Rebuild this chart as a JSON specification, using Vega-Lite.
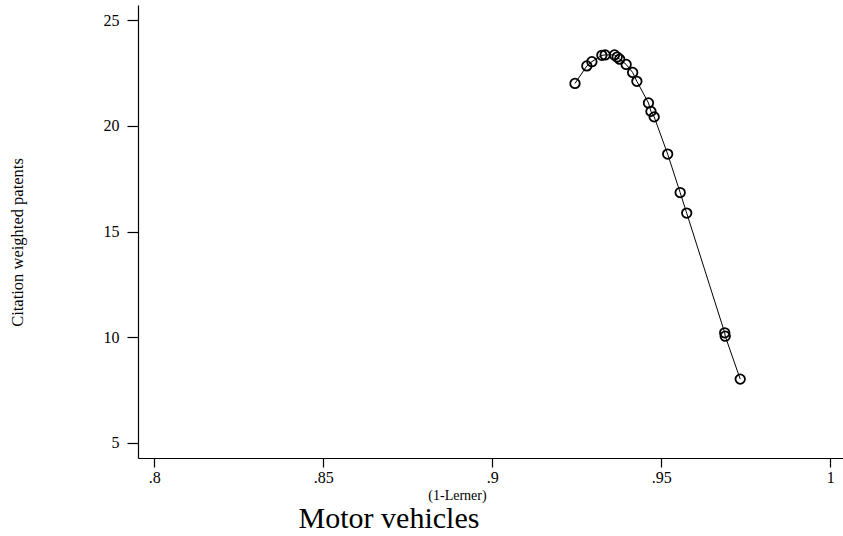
{
  "$schema": "https://vega.github.io/schema/vega-lite/v6.json",
  "autosize": {"type": "none"},
  "width": 705,
  "height": 453,
  "padding": {"left": 138, "top": 5, "right": 0, "bottom": 78},
  "background": "white",
  "config": {
    "view": {"stroke": null},
    "font": "Liberation Serif",
    "axis": {"grid": false, "domainColor": "black", "tickColor": "black", "labelColor": "black", "titleColor": "black", "labelFont": "Liberation Serif", "titleFont": "Liberation Serif", "titleFontWeight": "normal", "domainWidth": 1.2, "tickWidth": 1.2}
  },
  "title": {
    "text": "Motor vehicles",
    "orient": "bottom",
    "anchor": "middle",
    "frame": "bounds",
    "font": "Liberation Serif",
    "fontSize": 30,
    "fontWeight": "normal",
    "color": "black",
    "offset": 2,
    "dx": -37
  },
  "data": {
    "values": [
      {"lerner": 0.9245, "cwp": 22.00},
      {"lerner": 0.9280, "cwp": 22.83},
      {"lerner": 0.9295, "cwp": 23.03},
      {"lerner": 0.93245, "cwp": 23.33},
      {"lerner": 0.93342, "cwp": 23.35},
      {"lerner": 0.93618, "cwp": 23.35},
      {"lerner": 0.93698, "cwp": 23.25},
      {"lerner": 0.93772, "cwp": 23.15},
      {"lerner": 0.93964, "cwp": 22.90},
      {"lerner": 0.94156, "cwp": 22.52},
      {"lerner": 0.94281, "cwp": 22.10},
      {"lerner": 0.94624, "cwp": 21.08},
      {"lerner": 0.94698, "cwp": 20.68},
      {"lerner": 0.94793, "cwp": 20.42},
      {"lerner": 0.95192, "cwp": 18.66},
      {"lerner": 0.95562, "cwp": 16.84},
      {"lerner": 0.95755, "cwp": 15.87},
      {"lerner": 0.96880, "cwp": 10.21},
      {"lerner": 0.96895, "cwp": 10.05},
      {"lerner": 0.97339, "cwp": 8.02}
    ]
  },
  "encoding": {
    "x": {
      "field": "lerner",
      "type": "quantitative",
      "scale": {"domain": [0.7952, 1.0038], "nice": false, "zero": false},
      "axis": {
        "title": "(1-Lerner)",
        "titleFontSize": 14,
        "titlePadding": 3,
        "titleX": 319,
        "values": [0.8, 0.85, 0.9, 0.95, 1],
        "labelExpr": "datum.value == 1 ? '1' : substring(format(datum.value, '.2~f'), 1)",
        "labelFontSize": 16,
        "tickSize": 9,
        "labelPadding": 2
      }
    },
    "y": {
      "field": "cwp",
      "type": "quantitative",
      "scale": {"domain": [4.29, 25.71], "nice": false, "zero": false},
      "axis": {
        "title": "Citation weighted patents",
        "titleFontSize": 16.5,
        "titlePadding": 78,
        "titleY": 237,
        "values": [5, 10, 15, 20, 25],
        "labelFontSize": 16,
        "tickSize": 11,
        "labelPadding": 8
      }
    }
  },
  "layer": [
    {"mark": {"type": "line", "color": "black", "strokeWidth": 1}},
    {"mark": {"type": "point", "shape": "circle", "filled": false, "color": "black", "strokeWidth": 1.8, "size": 90, "opacity": 1}}
  ]
}
